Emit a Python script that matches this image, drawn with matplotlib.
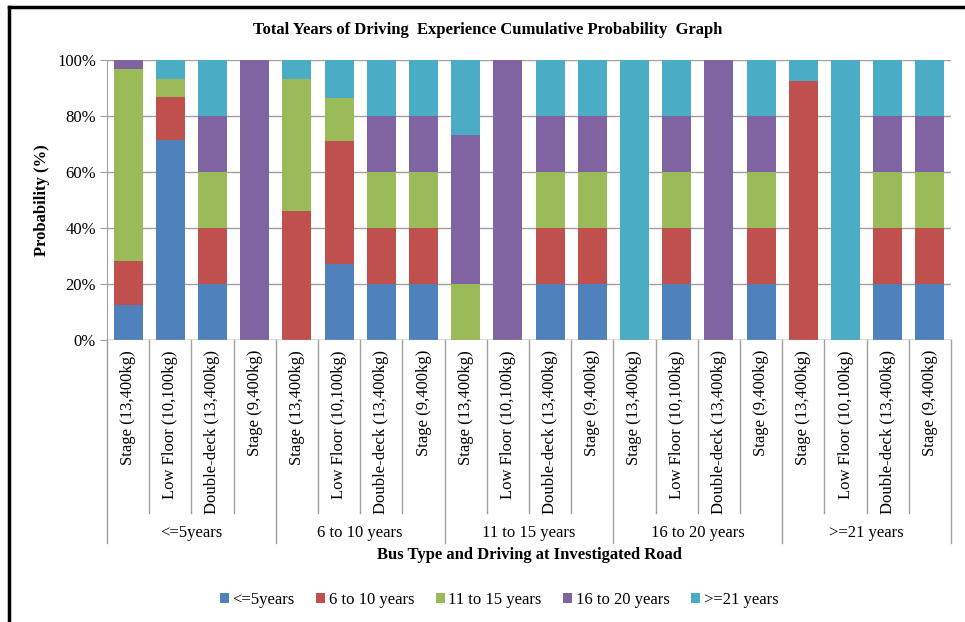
import numpy as np
import matplotlib
matplotlib.use('Agg')
import matplotlib.pyplot as plt
from matplotlib.lines import Line2D

plt.rcParams['font.family'] = ['Liberation Serif', 'DejaVu Serif']

groups = ['<=5years', '6 to 10 years', '11 to 15 years', '16 to 20 years', '>=21 years']
bus_types = ['Stage (13,400kg)', 'Low Floor (10,100kg)', 'Double-deck (13,400kg)', 'Stage (9,400kg)']
series_names = ['<=5years', '6 to 10 years', '11 to 15 years', '16 to 20 years', '>=21 years']

# percentages per bar, 4 bus types for each experience group
lt5 = [12.5, 71.4, 20, 0, 0, 27.1, 20, 20, 0, 0, 20, 20, 0, 20, 0, 20, 0, 0, 20, 20]
y6_10 = [15.6, 15.4, 20, 0, 46.2, 44.0, 20, 20, 0, 0, 20, 20, 0, 20, 0, 20, 92.5, 0, 20, 20]
y11_15 = [68.8, 6.5, 20, 0, 46.9, 15.4, 20, 20, 20, 0, 20, 20, 0, 20, 0, 20, 0, 0, 20, 20]
y16_20 = [3.1, 0, 20, 100, 0, 0, 20, 20, 53.3, 100, 20, 20, 0, 20, 100, 20, 0, 0, 20, 20]
ge21 = [0, 6.7, 20, 0, 6.9, 13.5, 20, 20, 26.7, 0, 20, 20, 100, 20, 0, 20, 7.5, 100, 20, 20]

colors = ['#4F81BD', '#C0504D', '#9BBB59', '#8064A2', '#4BACC6']

fig = plt.figure(figsize=(9.65, 6.22), dpi=100)
ax = fig.add_axes([107 / 965, 1 - 340 / 622, (951 - 107) / 965, 280 / 622])

n = len(lt5)
x = np.arange(n)
bottom = np.zeros(n)
for vals, name, c in zip([lt5, y6_10, y11_15, y16_20, ge21], series_names, colors):
    vals = np.array(vals, dtype=float)
    ax.bar(x, vals, width=0.69, bottom=bottom, color=c, label=name, zorder=3)
    bottom += vals

ax.set_xlim(-0.5, n - 0.5)
ax.set_ylim(0, 100)
ax.set_yticks(range(0, 101, 20))
ax.set_yticklabels([f'{v}%' for v in range(0, 101, 20)], fontsize=12)
ax.yaxis.grid(True, color='#A0A0A0', linewidth=1, zorder=0)
ax.tick_params(axis='y', length=5, color='#A0A0A0', pad=3)
ax.set_xticks([])
for s in ['top', 'right', 'bottom']:
    ax.spines[s].set_visible(False)
ax.spines['left'].set_color('#A0A0A0')
ax.axhline(0, color='#A0A0A0', linewidth=1, zorder=4)

ax.set_ylabel('Probability (%)', fontsize=12, fontweight='bold', labelpad=5)

# category labels and separators under the axis
tr = ax.get_xaxis_transform()
for i in range(n):
    ax.text(i, -0.036, bus_types[i % 4], rotation=90, ha='center', va='top',
            fontsize=12, transform=tr)
for b in range(n + 1):
    xpos = b - 0.5
    low = -0.725 if b % 4 == 0 else -0.618
    ax.add_line(Line2D([xpos, xpos], [0, low], transform=tr, color='#A0A0A0',
                       linewidth=1, clip_on=False))
for g, name in enumerate(groups):
    ax.text(g * 4 + 1.5, -0.689, name, ha='center', va='center', fontsize=12, transform=tr)

fig.text(488 / 965, 1 - 30 / 622, 'Total Years of Driving  Experience Cumulative Probability  Graph',
         ha='center', va='center', fontsize=12, fontweight='bold')
fig.text(529 / 965, 1 - 555 / 622, 'Bus Type and Driving at Investigated Road',
         ha='center', va='center', fontsize=12, fontweight='bold')

fig.legend(loc='center', bbox_to_anchor=(499 / 965, 1 - 600 / 622), ncol=5, frameon=False,
           fontsize=12, handlelength=0.55, handleheight=0.55, handletextpad=0.2,
           columnspacing=1.3)

# outer frame
fig.add_artist(Line2D([9 / 965, 1], [1 - 7 / 622, 1 - 7 / 622], transform=fig.transFigure,
                      color='black', linewidth=2.5))
fig.add_artist(Line2D([9 / 965, 9 / 965], [0, 1 - 7 / 622], transform=fig.transFigure,
                      color='black', linewidth=2.5))

fig.savefig('out.png', dpi=100)
